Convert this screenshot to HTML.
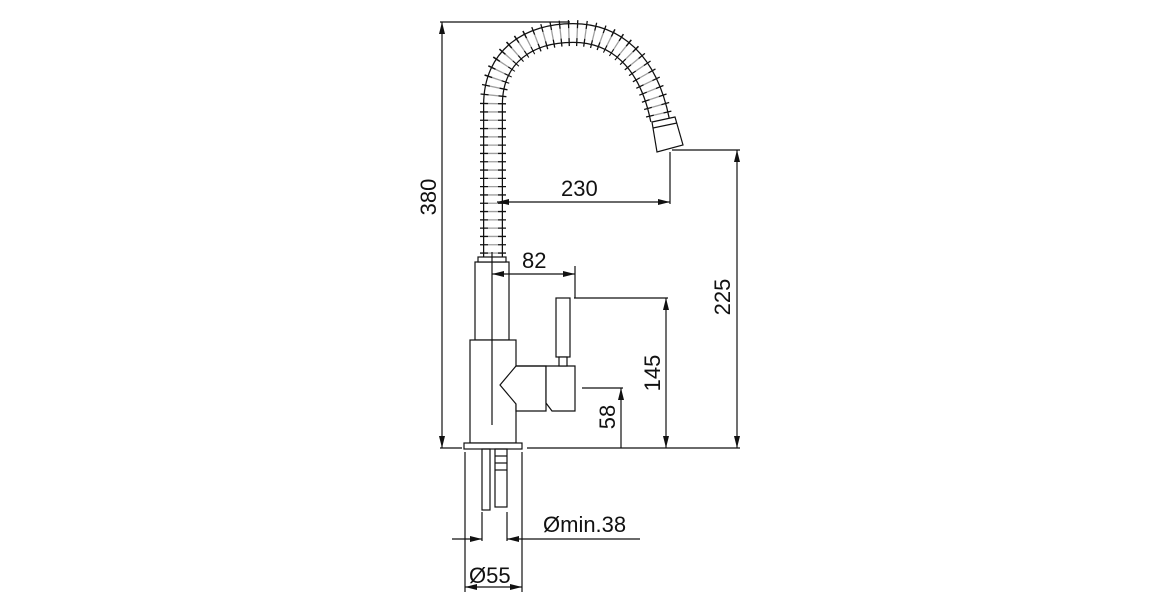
<!DOCTYPE html>
<html><head><meta charset="utf-8"><style>
html,body{margin:0;padding:0;background:#fff}
svg{display:block}
text{font-family:"Liberation Sans",sans-serif;font-size:22px;fill:#111}
</style></head><body>
<svg width="1160" height="600" viewBox="0 0 1160 600" xmlns="http://www.w3.org/2000/svg">
<defs>
<marker id="a" viewBox="0 0 12 6" refX="12" refY="3" markerWidth="12" markerHeight="6" markerUnits="userSpaceOnUse" orient="auto-start-reverse">
<path d="M0,0 L12,3 L0,6 z" fill="#111"/></marker>
</defs>
<g fill="none" stroke="#111" stroke-width="1.2">
<!-- hose -->
<path d="M493,262 L493,105 C493,55 530,33 573,33 C615,33 648,60 660,120" stroke-width="20"/>
<path d="M493,262 L493,105 C493,55 530,33 573,33 C615,33 648,60 660,120" stroke="#fff" stroke-width="17.5"/>
<path d="M493,262 L493,105 C493,55 530,33 573,33 C615,33 648,60 660,120" stroke-width="26" stroke-dasharray="1.3 7"/>
<path d="M493,262 L493,105 C493,55 530,33 573,33 C615,33 648,60 660,120" stroke="#fff" stroke-width="10" opacity="0.6"/>
<!-- nozzle -->
<path d="M652,122 L675,117 L683,145 L657,152 Z" fill="#fff"/>
<path d="M653,128 L677,123"/>
<!-- body -->
<rect x="475" y="262" width="34" height="78" fill="#fff"/>
<rect x="478" y="257" width="28" height="5" fill="#fff"/>
<rect x="470" y="340" width="46" height="103" fill="#fff"/>
<rect x="464" y="443" width="58" height="6" fill="#fff"/>
<line x1="492" y1="252" x2="492" y2="425"/>
<path d="M516,366 L546,366 L546,411 L516,411 L516,404 L500,385 L516,366 Z" fill="#fff"/>
<path d="M516,366 L575,366 L575,411 L552,411 L546,403 L546,366" fill="#fff"/>
<rect x="556" y="298" width="14" height="59" fill="#fff"/>
<rect x="559" y="357" width="8" height="9" fill="#fff"/>
<!-- under base -->
<rect x="482" y="449" width="8" height="61"/>
<rect x="495" y="449" width="12" height="58"/>
<line x1="495" y1="456" x2="507" y2="456"/><line x1="495" y1="463" x2="507" y2="463"/><line x1="495" y1="470" x2="507" y2="470"/>
<!-- dims -->
<line x1="440" y1="22" x2="570" y2="22"/>
<line x1="442" y1="22" x2="442" y2="448" marker-start="url(#a)" marker-end="url(#a)"/>
<line x1="440" y1="448" x2="462" y2="448"/>
<line x1="527" y1="448" x2="740" y2="448"/>
<line x1="672" y1="150" x2="740" y2="150"/>
<line x1="737" y1="150" x2="737" y2="448" marker-start="url(#a)" marker-end="url(#a)"/>
<line x1="670" y1="152" x2="670" y2="204"/>
<line x1="497" y1="202" x2="670" y2="202" marker-start="url(#a)" marker-end="url(#a)"/>
<line x1="575" y1="266" x2="575" y2="298"/>
<line x1="492" y1="274" x2="575" y2="274" marker-start="url(#a)" marker-end="url(#a)"/>
<line x1="574" y1="298" x2="668" y2="298"/>
<line x1="666" y1="298" x2="666" y2="448" marker-start="url(#a)" marker-end="url(#a)"/>
<line x1="582" y1="388" x2="623" y2="388"/>
<line x1="621" y1="388" x2="621" y2="448" marker-start="url(#a)"/>
<line x1="482" y1="512" x2="482" y2="541"/>
<line x1="507" y1="512" x2="507" y2="541"/>
<line x1="452" y1="539" x2="482" y2="539" marker-end="url(#a)"/>
<line x1="640" y1="539" x2="507" y2="539" marker-end="url(#a)"/>
<line x1="465" y1="452" x2="465" y2="592"/>
<line x1="522" y1="452" x2="522" y2="592"/>
<line x1="465" y1="587" x2="522" y2="587" marker-start="url(#a)" marker-end="url(#a)"/>
</g>
<text x="561" y="196">230</text>
<text x="522" y="268">82</text>
<text x="543" y="532">Ømin.38</text>
<text x="469" y="583">Ø55</text>
<text transform="translate(436,197) rotate(-90)" text-anchor="middle">380</text>
<text transform="translate(730,297) rotate(-90)" text-anchor="middle">225</text>
<text transform="translate(660,373) rotate(-90)" text-anchor="middle">145</text>
<text transform="translate(615,417) rotate(-90)" text-anchor="middle">58</text>
</svg>
</body></html>
